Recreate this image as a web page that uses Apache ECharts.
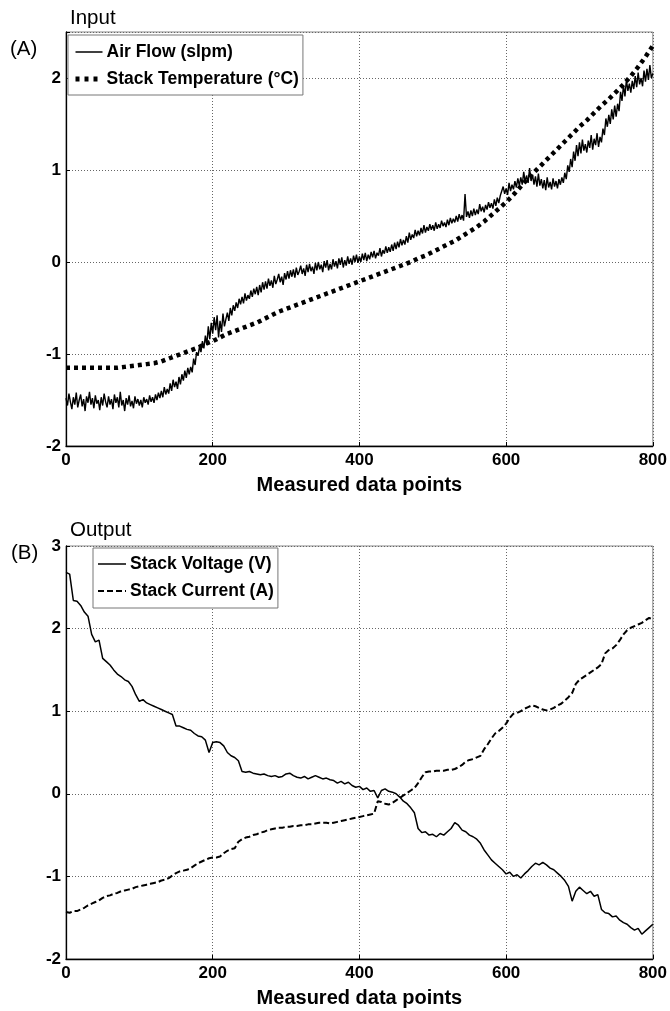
<!DOCTYPE html>
<html><head><meta charset="utf-8">
<script src="https://cdn.jsdelivr.net/npm/echarts@6/dist/echarts.min.js"></script>
<style>html,body{margin:0;padding:0;background:#fff}#c{width:670px;height:1011px}</style>
</head><body><div id="c"></div>
<script>
// Sample spacing (measured data point index step) for each series
const AIR_STEP = 2, TEMP_STEP = 10, VOLT_STEP = 5, CURR_STEP = 5;
const xTicks = [0, 200, 400, 600, 800];

const airFlow = [
-1.48,-1.56,-1.43,-1.52,-1.60, -1.47,-1.55,-1.42,-1.58,-1.50, -1.44,-1.57,-1.49,-1.62,-1.46, -1.53,-1.41,-1.55,-1.48,-1.59,
-1.45,-1.54,-1.50,-1.61,-1.47, -1.56,-1.43,-1.52,-1.58,-1.46, -1.55,-1.49,-1.60,-1.44,-1.53, -1.47,-1.58,-1.41,-1.56,-1.50,
-1.62,-1.48,-1.55,-1.45,-1.57, -1.51,-1.59,-1.46,-1.54,-1.49, -1.56,-1.50,-1.58,-1.47,-1.53, -1.49,-1.55,-1.45,-1.52,-1.47,
-1.53,-1.44,-1.50,-1.42,-1.48, -1.40,-1.47,-1.36,-1.44,-1.38, -1.43,-1.32,-1.40,-1.28,-1.36, -1.30,-1.38,-1.25,-1.33,-1.22,
-1.29,-1.18,-1.26,-1.15,-1.22, -1.14,-1.20,-1.05,-1.12,-0.98, -1.02,-0.92,-0.98,-0.86,-0.94, -0.80,-0.90,-0.70,-0.84,-0.66,
-0.78,-0.60,-0.74,-0.58,-0.82, -0.64,-0.76,-0.56,-0.70,-0.62, -0.55,-0.64,-0.50,-0.58,-0.47, -0.53,-0.44,-0.50,-0.40,-0.46,
-0.38,-0.45,-0.34,-0.42,-0.36, -0.40,-0.31,-0.38,-0.29,-0.35, -0.27,-0.36,-0.25,-0.33,-0.22, -0.30,-0.21,-0.29,-0.18,-0.26,
-0.20,-0.28,-0.15,-0.24,-0.19, -0.13,-0.22,-0.16,-0.25,-0.12, -0.19,-0.10,-0.18,-0.09,-0.16, -0.08,-0.17,-0.06,-0.14,-0.10,
-0.04,-0.13,-0.07,-0.15,-0.03, -0.11,-0.02,-0.10,-0.05,-0.13, -0.01,-0.09,0.00,-0.08,-0.03, -0.11,0.01,-0.06,0.02,-0.09,
-0.02,-0.08,0.03,-0.05,0.01, -0.07,0.04,-0.03,0.05,-0.06, 0.02,-0.04,0.06,-0.02,0.04, -0.03,0.07,0.00,0.08,-0.01,
0.06,0.00,0.09,0.02,0.10, 0.01,0.08,0.03,0.11,0.05, 0.12,0.04,0.10,0.07,0.15, 0.06,0.13,0.09,0.17,0.10,
0.16,0.11,0.19,0.12,0.21, 0.14,0.22,0.16,0.25,0.18, 0.24,0.19,0.28,0.21,0.32, 0.24,0.30,0.26,0.35,0.28,
0.34,0.29,0.37,0.31,0.40, 0.32,0.38,0.34,0.41,0.35, 0.40,0.34,0.43,0.36,0.41, 0.37,0.45,0.39,0.43,0.38,
0.46,0.40,0.48,0.42,0.47, 0.43,0.50,0.44,0.52,0.46, 0.51,0.45,0.74,0.49,0.55, 0.48,0.56,0.50,0.58,0.51,
0.57,0.52,0.63,0.55,0.60, 0.54,0.62,0.57,0.65,0.59, 0.64,0.58,0.68,0.61,0.70, 0.64,0.72,0.70,0.82,0.74,
0.80,0.73,0.86,0.77,0.84, 0.79,0.88,0.81,0.91,0.83, 0.92,0.84,0.98,0.87,0.94, 0.86,1.02,0.88,0.95,0.84,
0.93,0.82,0.96,0.83,0.90, 0.80,0.89,0.78,0.92,0.81, 0.87,0.79,0.91,0.82,0.88, 0.80,0.90,0.84,0.92,0.86,
0.97,0.90,1.05,0.98,1.12, 1.03,1.20,1.10,1.27,1.15, 1.30,1.18,1.33,1.21,1.28, 1.19,1.32,1.24,1.38,1.22,
1.34,1.27,1.40,1.25,1.36, 1.30,1.45,1.38,1.56,1.47, 1.60,1.50,1.66,1.55,1.70, 1.58,1.72,1.64,1.85,1.75,
1.92,1.80,1.98,1.86,1.94, 1.84,1.97,1.88,2.02,1.90, 2.06,1.93,2.00,1.91,2.08, 1.96,2.10,1.98,2.14,2.00,
2.05
];

const stackTemp = [
-1.15,-1.15,-1.15,-1.15,-1.15,-1.15,-1.15,-1.15,-1.14,-1.13,-1.12,-1.11,-1.10,-1.08,-1.05,-1.02,-0.99,-0.96,-0.93,-0.89,
-0.86,-0.82,-0.78,-0.75,-0.72,-0.69,-0.66,-0.62,-0.58,-0.54,-0.51,-0.48,-0.45,-0.42,-0.39,-0.36,-0.33,-0.30,-0.27,-0.24,
-0.21,-0.18,-0.15,-0.12,-0.09,-0.06,-0.03,0.00,0.04,0.07,0.11,0.15,0.19,0.23,0.28,0.33,0.38,0.44,0.51,0.58,
0.65,0.73,0.82,0.91,0.99,1.07,1.15,1.23,1.31,1.39,1.47,1.54,1.62,1.70,1.77,1.85,1.93,2.02,2.12,2.23,2.35
];

const stackVoltage = [
2.68,2.66,2.34,2.33,2.28,2.20,2.15,1.93,1.84,1.86,1.64,1.60,1.56,1.50,1.45,1.42,1.38,1.36,1.30,1.20,
1.12,1.14,1.10,1.08,1.06,1.04,1.02,1.00,0.98,0.96,0.82,0.82,0.80,0.78,0.77,0.73,0.70,0.69,0.65,0.50,
0.62,0.63,0.62,0.58,0.50,0.46,0.44,0.40,0.27,0.26,0.27,0.25,0.24,0.23,0.24,0.22,0.21,0.22,0.20,0.21,
0.24,0.25,0.22,0.20,0.19,0.21,0.18,0.20,0.22,0.20,0.18,0.19,0.17,0.16,0.13,0.15,0.12,0.14,0.10,0.08,
0.09,0.05,0.07,0.03,0.04,-0.05,0.04,0.06,0.03,0.02,0.00,-0.04,-0.09,-0.12,-0.17,-0.23,-0.42,-0.47,-0.46,-0.50,
-0.49,-0.52,-0.48,-0.50,-0.46,-0.42,-0.35,-0.38,-0.44,-0.46,-0.50,-0.52,-0.55,-0.60,-0.68,-0.74,-0.80,-0.84,-0.88,-0.92,
-0.97,-0.95,-1.00,-0.98,-1.02,-0.97,-0.93,-0.88,-0.84,-0.86,-0.83,-0.86,-0.90,-0.92,-0.96,-1.00,-1.05,-1.12,-1.30,-1.18,
-1.13,-1.17,-1.21,-1.18,-1.24,-1.22,-1.40,-1.44,-1.45,-1.49,-1.48,-1.53,-1.56,-1.58,-1.62,-1.65,-1.63,-1.70,-1.66,-1.62,
-1.58
];

const stackCurrent = [
-1.43,-1.44,-1.42,-1.42,-1.40,-1.38,-1.35,-1.33,-1.31,-1.29,-1.26,-1.24,-1.23,-1.21,-1.20,-1.18,-1.17,-1.16,-1.15,-1.13,
-1.12,-1.11,-1.10,-1.09,-1.08,-1.07,-1.05,-1.04,-1.02,-0.99,-0.96,-0.94,-0.93,-0.92,-0.90,-0.87,-0.84,-0.82,-0.80,-0.78,
-0.77,-0.77,-0.76,-0.72,-0.69,-0.67,-0.66,-0.58,-0.55,-0.53,-0.52,-0.50,-0.49,-0.47,-0.46,-0.44,-0.43,-0.42,-0.41,-0.41,
-0.40,-0.40,-0.39,-0.39,-0.38,-0.38,-0.37,-0.37,-0.36,-0.35,-0.35,-0.35,-0.36,-0.35,-0.34,-0.33,-0.32,-0.31,-0.30,-0.29,
-0.28,-0.27,-0.26,-0.25,-0.24,-0.09,-0.10,-0.12,-0.13,-0.11,-0.08,-0.05,-0.02,0.01,0.04,0.07,0.13,0.20,0.26,0.27,
0.27,0.28,0.28,0.28,0.29,0.29,0.30,0.32,0.35,0.39,0.41,0.42,0.44,0.46,0.54,0.60,0.67,0.73,0.76,0.80,
0.85,0.92,0.97,0.98,1.00,1.03,1.05,1.07,1.06,1.04,1.02,1.01,1.02,1.04,1.07,1.09,1.13,1.17,1.22,1.33,
1.38,1.41,1.44,1.47,1.50,1.53,1.57,1.70,1.74,1.76,1.80,1.86,1.93,1.98,2.01,2.03,2.05,2.07,2.10,2.13,
2.11
];

function pairs(vals, step) { return vals.map((v, i) => [i * step, v]); }

const FONT = '"Liberation Sans", Arial, Helvetica, sans-serif';
const chart = echarts.init(document.getElementById('c'), null, {renderer: 'canvas'});

function xAxisFor(gi) {
  return {
    type: 'value', gridIndex: gi, min: xTicks[0], max: xTicks[xTicks.length - 1], interval: 200,
    name: 'Measured data points', nameLocation: 'middle', nameGap: 29,
    nameTextStyle: {fontFamily: FONT, fontSize: 20, fontWeight: 'bold', color: '#000'},
    axisLine: {show: true, onZero: false, lineStyle: {color: '#000', width: 1.3}},
    axisTick: {show: true, inside: true, length: 4, lineStyle: {color: '#000'}},
    axisLabel: {fontFamily: FONT, fontSize: 17, fontWeight: 'bold', color: '#000', margin: 6},
    splitLine: {show: true, lineStyle: {color: '#666', width: 1, type: [1, 2]}}
  };
}
function yAxisFor(gi, min, max) {
  return {
    type: 'value', gridIndex: gi, min: min, max: max, interval: 1,
    axisLine: {show: true, onZero: false, lineStyle: {color: '#000', width: 1.3}},
    axisTick: {show: true, inside: true, length: 4, lineStyle: {color: '#000'}},
    axisLabel: {fontFamily: FONT, fontSize: 17, fontWeight: 'bold', color: '#000', margin: 5,
      formatter: v => Number.isInteger(v) ? String(v) : ''},
    splitLine: {show: true, lineStyle: {color: '#666', width: 1, type: [1, 2]}}
  };
}

const legendCommon = {
  orient: 'vertical', itemGap: 9, itemHeight: 14,
  borderColor: '#777', borderWidth: 1, backgroundColor: '#fff',
  itemStyle: {opacity: 0},
  textStyle: {fontFamily: FONT, fontSize: 17.5, fontWeight: 'bold', color: '#000', padding: [0, 0, 0, -1]}
};

const option = {
  backgroundColor: '#fff',
  animation: false,
  title: [
    {text: 'Input', left: 65, top: 3, textStyle: {fontFamily: FONT, fontSize: 20.5, fontWeight: 'normal', color: '#000'}},
    {text: '(A)', left: 5, top: 34, textStyle: {fontFamily: FONT, fontSize: 20.5, fontWeight: 'normal', color: '#000'}},
    {text: 'Output', left: 65, top: 515, textStyle: {fontFamily: FONT, fontSize: 20.5, fontWeight: 'normal', color: '#000'}},
    {text: '(B)', left: 6, top: 538, textStyle: {fontFamily: FONT, fontSize: 20.5, fontWeight: 'normal', color: '#000'}}
  ],
  grid: [
    {left: 66, top: 32, width: 590, height: 414, show: true, borderColor: '#888', borderWidth: 1, backgroundColor: 'transparent'},
    {left: 66, top: 546, width: 590, height: 413, show: true, borderColor: '#888', borderWidth: 1, backgroundColor: 'transparent'}
  ],
  xAxis: [xAxisFor(0), xAxisFor(1)],
  yAxis: [yAxisFor(0, -2, 2.5), yAxisFor(1, -2, 3)],
  legend: [
    Object.assign({}, legendCommon, {
      data: [
        {name: 'Air Flow (slpm)', lineStyle: {width: 1.5}},
        {name: 'Stack Temperature (°C)', lineStyle: {width: 5, type: [4, 5]}}
      ], left: 68, top: 35, padding: [8, 4, 7, 5], itemWidth: 27}),
    Object.assign({}, legendCommon, {
      data: [
        {name: 'Stack Voltage (V)', lineStyle: {width: 1.5}},
        {name: 'Stack Current (A)', lineStyle: {width: 2, type: [6, 3]}}
      ], left: 93, top: 548, padding: [7, 4, 8, 4], itemWidth: 28})
  ],
  series: [
    {name: 'Air Flow (slpm)', type: 'line', xAxisIndex: 0, yAxisIndex: 0, data: pairs(airFlow, AIR_STEP),
     symbol: 'none', lineStyle: {color: '#000', width: 1.4}, itemStyle: {color: '#000'}, z: 3},
    {name: 'Stack Temperature (°C)', type: 'line', xAxisIndex: 0, yAxisIndex: 0, data: pairs(stackTemp, TEMP_STEP),
     symbol: 'none', lineStyle: {color: '#000', width: 4.5, type: [4, 4]}, itemStyle: {color: '#000'}, z: 2},
    {name: 'Stack Voltage (V)', type: 'line', xAxisIndex: 1, yAxisIndex: 1, data: pairs(stackVoltage, VOLT_STEP),
     symbol: 'none', lineStyle: {color: '#000', width: 1.5}, itemStyle: {color: '#000'}, z: 3},
    {name: 'Stack Current (A)', type: 'line', xAxisIndex: 1, yAxisIndex: 1, data: pairs(stackCurrent, CURR_STEP),
     symbol: 'none', lineStyle: {color: '#000', width: 2, type: [6, 3]}, itemStyle: {color: '#000'}, z: 2}
  ]
};
chart.setOption(option);
</script>
</body></html>
